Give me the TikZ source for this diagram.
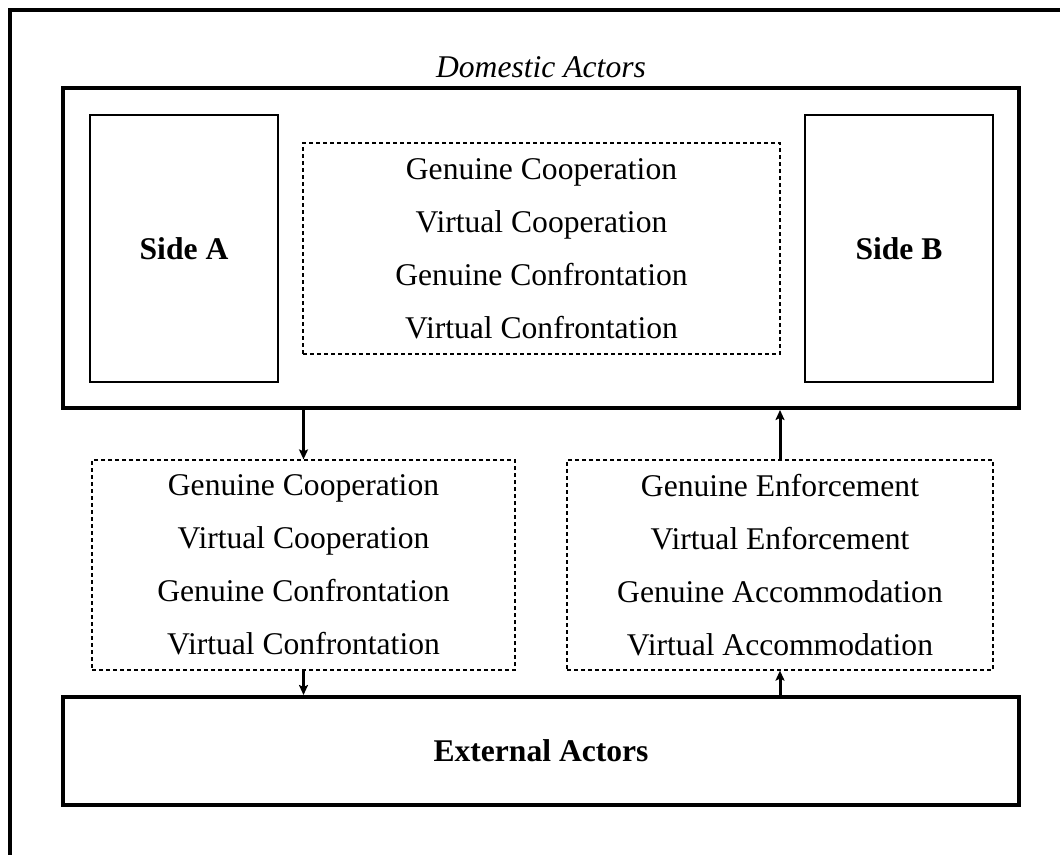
\documentclass[tikz,border=0pt]{standalone}
\usepackage{fontspec}
\setmainfont{Liberation Serif}
\usetikzlibrary{arrows.meta}
\begin{document}
\begin{tikzpicture}[x=1pt,y=-1pt,
  txt/.style={font=\fontsize{31.6}{53}\selectfont},
  thickbox/.style={draw,line width=4pt,inner sep=0pt,txt},
  sidebox/.style={draw,line width=2pt,inner sep=0pt,minimum width=188pt,minimum height=267pt,txt,font=\fontsize{31.6}{53}\selectfont\bfseries},
  dashbox/.style={draw,line width=1.2pt,dash pattern=on 4pt off 3pt,inner sep=0pt,align=center,txt},
  arr/.style={line width=3pt,-{Stealth[length=10pt,width=9pt,inset=2pt]}}]
\useasboundingbox (0,0) rectangle (1060,854);
\draw[line width=4pt] (10,870) -- (10,10) -- (1075,10);
\node[thickbox,minimum width=956pt,minimum height=320pt] (dom) at (541,248) {};
\node[txt,font=\fontsize{31.6}{40}\selectfont\itshape,anchor=base] (domlbl) at (541,77) {Domestic Actors};
\node[sidebox] (sa) at (184,248.5) {Side A};
\node[sidebox] (sb) at (899,248.5) {Side B};
\node[dashbox,minimum width=477pt,minimum height=211pt] (mid) at (541.5,248.5) {Genuine Cooperation\\Virtual Cooperation\\Genuine Confrontation\\Virtual Confrontation};
\node[dashbox,minimum width=423pt,minimum height=210pt] (ll) at (303.5,565) {Genuine Cooperation\\Virtual Cooperation\\Genuine Confrontation\\Virtual Confrontation};
\node[dashbox,minimum width=426pt,minimum height=210pt] (lr) at (780,565) {Genuine Enforcement\\Virtual Enforcement\\Genuine Accommodation\\Virtual Accommodation};
\node[thickbox,minimum width=956pt,minimum height=108pt,font=\fontsize{31.6}{40}\selectfont\bfseries] (ext) at (541,751) {External Actors};
\draw[arr] (ll.north |- dom.south) -- (ll.north);
\draw[arr] (lr.north) -- (lr.north |- dom.south);
\draw[arr] (ll.south) -- (ll.south |- ext.north);
\draw[arr] (lr.south |- ext.north) -- (lr.south);
\end{tikzpicture}
\end{document}
